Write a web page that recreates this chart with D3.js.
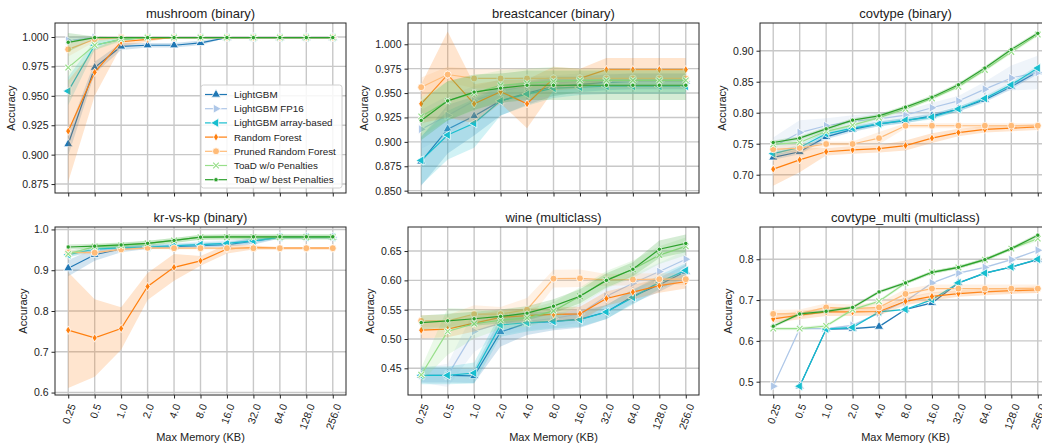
<!DOCTYPE html>
<html>
<head>
<meta charset="utf-8">
<script src="https://cdn.jsdelivr.net/npm/d3@7"></script>
<style>
  body { margin: 0; background: #fff; }
  svg { font-family: "Liberation Sans", Arial, sans-serif; }
</style>
</head>
<body>
<svg id="chart" width="1042" height="447"></svg>
<script>
// x categories (memory budget in KB)
const memory = ["0.25", "0.5", "1.0", "2.0", "4.0", "8.0", "16.0", "32.0", "64.0", "128.0", "256.0"];

const seriesNames = ["LightGBM", "LightGBM FP16", "LightGBM array-based", "Random Forest",
  "Pruned Random Forest", "ToaD w/o Penalties", "ToaD w/ best Penalties"];
const seriesColors = ["#1f77b4", "#aec7e8", "#17becf", "#ff7f0e", "#ffbb78", "#98df8a", "#2ca02c"];
const seriesMarkers = ["triUp", "triRight", "triLeft", "thinDiamond", "circle", "x", "point"];

// mean accuracy per series (order as seriesNames), and CI half widths
const mushroomAcc = [
  [0.909, 0.974, 0.992, 0.993, 0.993, 0.995, 0.9995, 0.9995, 0.9995, 0.9995, 0.9995],
  [0.997, 0.9995, 0.9995, 0.9995, 0.9995, 0.9995, 0.9995, 0.9995, 0.9995, 0.9995, 0.9995],
  [0.954, 0.993, 0.998, 0.9995, 0.9995, 0.9995, 0.9995, 0.9995, 0.9995, 0.9995, 0.9995],
  [0.920, 0.970, 0.996, 0.998, 0.9995, 0.9995, 0.9995, 0.9995, 0.9995, 0.9995, 0.9995],
  [0.9895, 0.998, 0.9995, 0.9995, 0.9995, 0.9995, 0.9995, 0.9995, 0.9995, 0.9995, 0.9995],
  [0.974, 0.993, 0.998, 0.9995, 0.9995, 0.9995, 0.9995, 0.9995, 0.9995, 0.9995, 0.9995],
  [0.9955, 0.9995, 0.9995, 0.9995, 0.9995, 0.9995, 0.9995, 0.9995, 0.9995, 0.9995, 0.9995]
];
const mushroomCI = [
  [0.010, 0.005, 0.003, 0.002, 0.002, 0.002, 0, 0, 0, 0, 0],
  [0.003, 0.001, 0, 0, 0, 0, 0, 0, 0, 0, 0],
  [0.012, 0.004, 0.001, 0, 0, 0, 0, 0, 0, 0, 0],
  [0.043, 0.020, 0.004, 0.002, 0, 0, 0, 0, 0, 0, 0],
  [0.006, 0.002, 0.001, 0, 0, 0, 0, 0, 0, 0, 0],
  [0.015, 0.004, 0.002, 0, 0, 0, 0, 0, 0, 0, 0],
  [0.008, 0.001, 0, 0, 0, 0, 0, 0, 0, 0, 0]
];

const breastAcc = [
  [0.880, 0.913, 0.9265, 0.942, 0.950, 0.957, 0.959, 0.961, 0.962, 0.962, 0.962],
  [0.913, 0.927, 0.942, 0.952, 0.957, 0.960, 0.962, 0.962, 0.962, 0.962, 0.962],
  [0.881, 0.907, 0.919, 0.942, 0.949, 0.955, 0.956, 0.957, 0.957, 0.957, 0.957],
  [0.939, 0.969, 0.939, 0.9515, 0.939, 0.965, 0.965, 0.974, 0.974, 0.974, 0.974],
  [0.956, 0.969, 0.965, 0.965, 0.965, 0.965, 0.965, 0.965, 0.965, 0.965, 0.965],
  [0.926, 0.942, 0.950, 0.958, 0.960, 0.962, 0.963, 0.963, 0.963, 0.963, 0.963],
  [0.922, 0.942, 0.951, 0.955, 0.958, 0.958, 0.958, 0.958, 0.958, 0.958, 0.958]
];
const breastCI = [
  [0.025, 0.025, 0.020, 0.015, 0.012, 0.010, 0.008, 0.008, 0.008, 0.008, 0.008],
  [0.020, 0.020, 0.015, 0.012, 0.010, 0.008, 0.008, 0.008, 0.008, 0.008, 0.008],
  [0.025, 0.025, 0.025, 0.015, 0.012, 0.010, 0.008, 0.008, 0.008, 0.008, 0.008],
  [0.020, 0.044, 0.020, 0.012, 0.025, 0.012, 0.010, 0.012, 0.012, 0.012, 0.012],
  [0.010, 0.008, 0.010, 0.010, 0.010, 0.010, 0.010, 0.010, 0.010, 0.010, 0.010],
  [0.020, 0.020, 0.018, 0.015, 0.015, 0.015, 0.012, 0.012, 0.012, 0.012, 0.012],
  [0.020, 0.020, 0.018, 0.015, 0.015, 0.015, 0.015, 0.015, 0.015, 0.015, 0.015]
];

const covtypeAcc = [
  [0.728, 0.737, 0.761, 0.773, 0.782, 0.787, 0.795, 0.806, 0.821, 0.842, 0.866],
  [0.745, 0.768, 0.779, 0.786, 0.790, 0.796, 0.808, 0.819, 0.838, 0.856, 0.865],
  [0.734, 0.744, 0.766, 0.775, 0.782, 0.788, 0.793, 0.806, 0.823, 0.845, 0.872],
  [0.709, 0.724, 0.737, 0.740, 0.742, 0.747, 0.759, 0.768, 0.773, 0.775, 0.777],
  [0.741, 0.743, 0.7495, 0.7495, 0.759, 0.779, 0.779, 0.779, 0.779, 0.779, 0.779],
  [0.749, 0.752, 0.770, 0.780, 0.792, 0.806, 0.823, 0.842, 0.869, 0.898, 0.926],
  [0.752, 0.759, 0.774, 0.788, 0.795, 0.809, 0.825, 0.845, 0.872, 0.902, 0.928]
];
const covtypeCI = [
  [0.004, 0.004, 0.004, 0.004, 0.004, 0.004, 0.004, 0.004, 0.004, 0.004, 0.004],
  [0.015, 0.020, 0.012, 0.010, 0.010, 0.008, 0.008, 0.008, 0.012, 0.020, 0.027],
  [0.004, 0.004, 0.004, 0.004, 0.004, 0.004, 0.004, 0.004, 0.004, 0.004, 0.004],
  [0.027, 0.020, 0.006, 0.006, 0.006, 0.008, 0.008, 0.006, 0.005, 0.005, 0.005],
  [0.004, 0.008, 0.004, 0.004, 0.010, 0.004, 0.004, 0.004, 0.004, 0.004, 0.004],
  [0.003, 0.003, 0.003, 0.003, 0.003, 0.003, 0.003, 0.003, 0.003, 0.003, 0.003],
  [0.003, 0.003, 0.003, 0.003, 0.003, 0.003, 0.003, 0.003, 0.003, 0.003, 0.003]
];

const krvskpAcc = [
  [0.905, 0.938, 0.952, 0.957, 0.958, 0.960, 0.963, 0.971, 0.981, 0.981, 0.981],
  [0.940, 0.950, 0.955, 0.958, 0.960, 0.963, 0.966, 0.973, 0.981, 0.981, 0.981],
  [0.938, 0.952, 0.955, 0.957, 0.960, 0.963, 0.966, 0.972, 0.981, 0.981, 0.981],
  [0.753, 0.734, 0.757, 0.860, 0.907, 0.923, 0.952, 0.956, 0.954, 0.954, 0.954],
  [0.944, 0.943, 0.951, 0.955, 0.954, 0.954, 0.954, 0.954, 0.954, 0.954, 0.954],
  [0.940, 0.958, 0.961, 0.966, 0.973, 0.981, 0.981, 0.981, 0.981, 0.981, 0.981],
  [0.957, 0.959, 0.962, 0.966, 0.973, 0.981, 0.982, 0.982, 0.982, 0.982, 0.982]
];
const krvskpCI = [
  [0.020, 0.015, 0.008, 0.005, 0.005, 0.005, 0.005, 0.008, 0.003, 0.003, 0.003],
  [0.008, 0.006, 0.005, 0.005, 0.006, 0.008, 0.008, 0.008, 0.004, 0.003, 0.003],
  [0.006, 0.005, 0.005, 0.005, 0.005, 0.005, 0.005, 0.005, 0.003, 0.003, 0.003],
  [0.142, 0.095, 0.052, 0.033, 0.033, 0.012, 0.011, 0.005, 0.003, 0.003, 0.003],
  [0.005, 0.004, 0.004, 0.003, 0.003, 0.003, 0.003, 0.003, 0.003, 0.003, 0.003],
  [0.006, 0.006, 0.006, 0.006, 0.006, 0.006, 0.006, 0.006, 0.006, 0.006, 0.006],
  [0.006, 0.006, 0.006, 0.006, 0.006, 0.006, 0.006, 0.006, 0.006, 0.006, 0.006]
];

const wineAcc = [
  [0.438, 0.438, 0.437, 0.512, 0.527, 0.530, 0.534, 0.546, 0.573, 0.5925, 0.615],
  [0.438, 0.438, 0.513, 0.527, 0.530, 0.535, 0.543, 0.573, 0.595, 0.615, 0.636],
  [0.438, 0.438, 0.442, 0.524, 0.528, 0.530, 0.533, 0.546, 0.571, 0.597, 0.617],
  [0.515, 0.517, 0.527, 0.537, 0.540, 0.542, 0.543, 0.569, 0.580, 0.591, 0.598],
  [0.531, 0.531, 0.5425, 0.5425, 0.550, 0.603, 0.6035, 0.601, 0.6015, 0.602, 0.602],
  [0.439, 0.513, 0.526, 0.532, 0.536, 0.548, 0.573, 0.601, 0.619, 0.643, 0.658],
  [0.528, 0.531, 0.5345, 0.5385, 0.544, 0.556, 0.573, 0.600, 0.619, 0.653, 0.663]
];
const wineCI = [
  [0.012, 0.012, 0.012, 0.025, 0.020, 0.015, 0.015, 0.012, 0.012, 0.012, 0.012],
  [0.012, 0.020, 0.035, 0.020, 0.015, 0.015, 0.015, 0.015, 0.015, 0.015, 0.015],
  [0.015, 0.015, 0.018, 0.020, 0.015, 0.012, 0.012, 0.012, 0.012, 0.012, 0.012],
  [0.014, 0.014, 0.014, 0.012, 0.012, 0.012, 0.012, 0.012, 0.012, 0.012, 0.012],
  [0.010, 0.010, 0.015, 0.012, 0.020, 0.015, 0.015, 0.010, 0.010, 0.010, 0.010],
  [0.012, 0.040, 0.025, 0.015, 0.015, 0.015, 0.015, 0.015, 0.015, 0.015, 0.015],
  [0.012, 0.012, 0.012, 0.012, 0.012, 0.012, 0.012, 0.012, 0.012, 0.015, 0.015]
];

const covmultiAcc = [
  [null, 0.489, 0.629, 0.630, 0.635, 0.677, 0.693, 0.742, 0.766, 0.781, 0.799],
  [0.489, 0.630, 0.630, 0.638, 0.668, 0.697, 0.742, 0.766, 0.780, 0.799, 0.822],
  [null, 0.489, 0.629, 0.633, 0.671, 0.677, 0.701, 0.742, 0.766, 0.781, 0.800],
  [0.654, 0.663, 0.671, 0.671, 0.672, 0.697, 0.709, 0.716, 0.720, 0.723, 0.725],
  [0.666, 0.667, 0.682, 0.679, 0.682, 0.715, 0.728, 0.728, 0.728, 0.728, 0.728],
  [0.630, 0.630, 0.6365, 0.6765, 0.697, 0.742, 0.768, 0.780, 0.799, 0.826, 0.8505],
  [0.636, 0.666, 0.6725, 0.682, 0.720, 0.742, 0.768, 0.780, 0.799, 0.826, 0.859]
];
const covmultiCI = [
  [0, 0.002, 0.002, 0.002, 0.002, 0.002, 0.002, 0.002, 0.002, 0.002, 0.002],
  [0.002, 0.002, 0.002, 0.002, 0.002, 0.002, 0.002, 0.002, 0.002, 0.002, 0.002],
  [0, 0.002, 0.002, 0.002, 0.002, 0.002, 0.002, 0.002, 0.002, 0.002, 0.002],
  [0.010, 0.010, 0.010, 0.010, 0.010, 0.010, 0.010, 0.008, 0.008, 0.008, 0.008],
  [0.010, 0.010, 0.010, 0.010, 0.012, 0.012, 0.010, 0.010, 0.010, 0.010, 0.010],
  [0.004, 0.004, 0.004, 0.004, 0.004, 0.004, 0.004, 0.004, 0.004, 0.004, 0.006],
  [0.004, 0.004, 0.004, 0.004, 0.004, 0.004, 0.004, 0.004, 0.004, 0.004, 0.004]
];

const panels = [
  { title: "mushroom (binary)", acc: mushroomAcc, ci: mushroomCI, col: 0, row: 0,
    domain: [0.8674, 1.0119], ticks: [0.875, 0.9, 0.925, 0.95, 0.975, 1.0], fmt: ".3f", legend: true },
  { title: "breastcancer (binary)", acc: breastAcc, ci: breastCI, col: 1, row: 0,
    domain: [0.8476, 1.0218], ticks: [0.85, 0.875, 0.9, 0.925, 0.95, 0.975, 1.0], fmt: ".3f" },
  { title: "covtype (binary)", acc: covtypeAcc, ci: covtypeCI, col: 2, row: 0,
    domain: [0.6705, 0.9447], ticks: [0.7, 0.75, 0.8, 0.85, 0.9], fmt: ".2f" },
  { title: "kr-vs-kp (binary)", acc: krvskpAcc, ci: krvskpCI, col: 0, row: 1,
    domain: [0.594, 1.006], ticks: [0.6, 0.7, 0.8, 0.9, 1.0], fmt: ".1f" },
  { title: "wine (multiclass)", acc: wineAcc, ci: wineCI, col: 1, row: 1,
    domain: [0.4045, 0.691], ticks: [0.45, 0.5, 0.55, 0.6, 0.65], fmt: ".2f" },
  { title: "covtype_multi (multiclass)", acc: covmultiAcc, ci: covmultiCI, col: 2, row: 1,
    domain: [0.4674, 0.879], ticks: [0.5, 0.6, 0.7, 0.8], fmt: ".1f" }
];

const cols = [{ left: 55, right: 346 }, { left: 408, right: 699 }, { left: 760, right: 1051 }];
const rows = [{ top: 23, bottom: 193 }, { top: 227, bottom: 395 }];

const svg = d3.select("#chart");
const textColor = "#222";
const rad = 70 * Math.PI / 180;

function markerPath(type) {
  switch (type) {
    case "triUp": return d3.symbol(d3.symbolTriangle, 36)();
    case "triRight": return d3.symbol(d3.symbolTriangle, 36)();
    case "triLeft": return d3.symbol(d3.symbolTriangle, 36)();
    case "thinDiamond": return "M0,-4.2L2.5,0L0,4.2L-2.5,0Z";
    case "circle": return d3.symbol(d3.symbolCircle, 38)();
    case "point": return d3.symbol(d3.symbolCircle, 15)();
    case "x": return "M-2.8,-2.8L2.8,2.8M-2.8,2.8L2.8,-2.8";
  }
}
function markerRotate(type) {
  if (type === "triRight") return " rotate(90)";
  if (type === "triLeft") return " rotate(-90)";
  return "";
}
function drawMarker(g, type, color, x, y) {
  const t = `translate(${x},${y})` + markerRotate(type);
  if (type === "x") {
    g.append("path").attr("d", markerPath(type)).attr("transform", t)
      .attr("stroke", "#fff").attr("stroke-width", 2.8).attr("fill", "none");
    g.append("path").attr("d", markerPath(type)).attr("transform", t)
      .attr("stroke", color).attr("stroke-width", 1.2).attr("fill", "none");
  } else {
    g.append("path").attr("d", markerPath(type)).attr("transform", t)
      .attr("fill", color).attr("stroke", "#fff").attr("stroke-width", 0.8);
  }
}

panels.forEach((p, pi) => {
  const c = cols[p.col], r = rows[p.row];
  const x = d3.scalePoint().domain(memory).range([c.left, c.right]).padding(0.5);
  const y = d3.scaleLinear().domain(p.domain).range([r.bottom, r.top]);
  const g = svg.append("g");

  // grid
  g.append("g").selectAll("line.v").data(memory).join("line")
    .attr("x1", d => x(d)).attr("x2", d => x(d)).attr("y1", r.top).attr("y2", r.bottom)
    .attr("stroke", "#c8c8c8").attr("stroke-width", 1.4);
  g.append("g").selectAll("line.h").data(p.ticks).join("line")
    .attr("x1", c.left).attr("x2", c.right).attr("y1", d => y(d)).attr("y2", d => y(d))
    .attr("stroke", "#c8c8c8").attr("stroke-width", 1.4);

  // clip
  const clipId = "clip" + pi;
  svg.append("clipPath").attr("id", clipId).append("rect")
    .attr("x", c.left).attr("y", r.top).attr("width", c.right - c.left).attr("height", r.bottom - r.top);
  const plot = g.append("g").attr("clip-path", `url(#${clipId})`);

  p.acc.forEach((vals, si) => {
    const pts = memory.map((m, i) => ({ m: m, v: vals[i], e: p.ci[si][i] }));
    const area = d3.area().defined(d => d.v != null)
      .x(d => x(d.m)).y0(d => y(d.v - d.e)).y1(d => y(d.v + d.e));
    plot.append("path").attr("d", area(pts)).attr("fill", seriesColors[si])
      .attr("fill-opacity", 0.2).attr("stroke", "none");
    const line = d3.line().defined(d => d.v != null).x(d => x(d.m)).y(d => y(d.v));
    plot.append("path").attr("d", line(pts)).attr("fill", "none")
      .attr("stroke", seriesColors[si]).attr("stroke-width", 1.2);
    const mg = plot.append("g");
    pts.filter(d => d.v != null).forEach(d => drawMarker(mg, seriesMarkers[si], seriesColors[si], x(d.m), y(d.v)));
  });

  // spine
  g.append("rect").attr("x", c.left).attr("y", r.top)
    .attr("width", c.right - c.left).attr("height", r.bottom - r.top)
    .attr("fill", "none").attr("stroke", "#262626").attr("stroke-width", 1);

  // y axis
  const yAxis = g.append("g").attr("transform", `translate(${c.left},0)`)
    .call(d3.axisLeft(y).tickValues(p.ticks).tickFormat(d3.format(p.fmt)).tickSize(3.5).tickPadding(3));
  yAxis.select(".domain").remove();
  yAxis.selectAll("line").attr("stroke", "#262626");
  yAxis.selectAll("text").attr("font-size", 10.5).attr("fill", textColor);
  yAxis.attr("font-family", null);
  const yw = yAxis.node().getBBox().width;
  g.append("text").attr("transform", `translate(${c.left - yw - 7},${(r.top + r.bottom) / 2}) rotate(-90)`)
    .attr("text-anchor", "middle").attr("font-size", 11).attr("fill", textColor).text("Accuracy");

  // x axis
  const xAxis = g.append("g").attr("transform", `translate(0,${r.bottom})`)
    .call(d3.axisBottom(x).tickSize(3.5).tickPadding(3));
  xAxis.attr("font-family", null);
  xAxis.select(".domain").remove();
  xAxis.selectAll("line").attr("stroke", "#262626");
  if (p.row === 1) {
    xAxis.selectAll("text").attr("font-size", 10.5).attr("fill", textColor)
      .attr("y", 0).attr("dy", null).attr("text-anchor", "middle").attr("dominant-baseline", "central")
      .attr("transform", function () {
        const w = this.getComputedTextLength();
        const cy = 7.5 + (w * Math.sin(rad) + 10 * Math.cos(rad)) / 2;
        return `translate(0,${cy}) rotate(-70)`;
      });
    g.append("text").attr("x", (c.left + c.right) / 2).attr("y", 441)
      .attr("text-anchor", "middle").attr("font-size", 11).attr("fill", textColor).text("Max Memory (KB)");
  } else {
    xAxis.selectAll("text").remove();
  }

  // title
  g.append("text").attr("x", (c.left + c.right) / 2).attr("y", r.top - 5)
    .attr("text-anchor", "middle").attr("font-size", 13).attr("fill", textColor).text(p.title);

  // legend
  if (p.legend) {
    const lg = g.append("g");
    lg.append("rect").attr("x", 201).attr("y", 85).attr("width", 141).attr("height", 103).attr("rx", 2.5)
      .attr("fill", "#fff").attr("fill-opacity", 0.85).attr("stroke", "#d0d0d0").attr("stroke-width", 1);
    seriesNames.forEach((name, si) => {
      const ly = 94.5 + si * 14.2;
      lg.append("line").attr("x1", 205).attr("x2", 227).attr("y1", ly).attr("y2", ly)
        .attr("stroke", seriesColors[si]).attr("stroke-width", 1.2);
      drawMarker(lg, seriesMarkers[si], seriesColors[si], 216, ly);
      lg.append("text").attr("x", 234).attr("y", ly).attr("dy", "0.35em")
        .attr("font-size", 9.8).attr("fill", textColor).text(name);
    });
  }
});
</script>
</body>
</html>
